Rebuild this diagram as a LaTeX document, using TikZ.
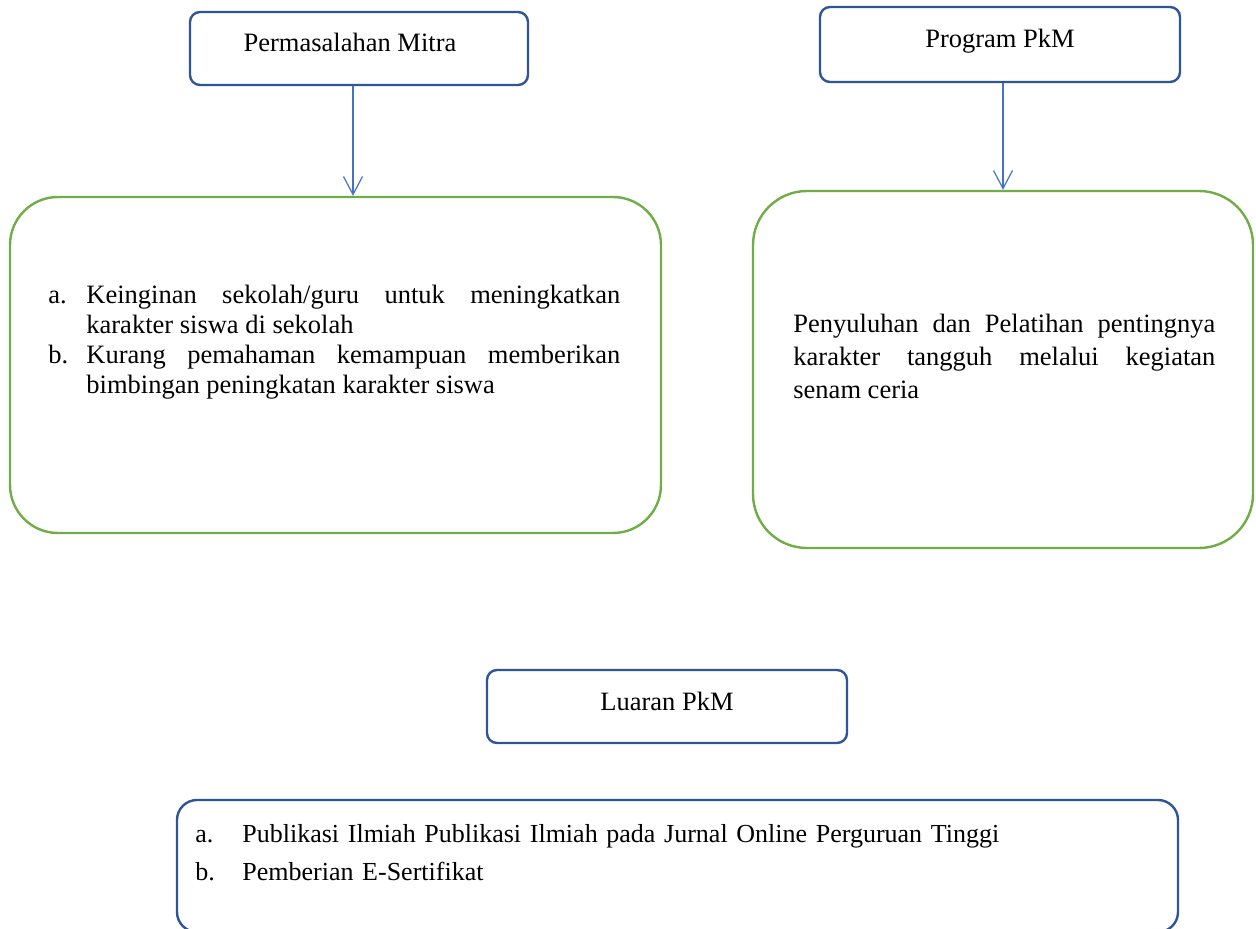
\documentclass[tikz,border=0pt]{standalone}
\usepackage{fontspec}
\setmainfont{Liberation Serif}
\usetikzlibrary{arrows.meta}
\definecolor{boxblue}{HTML}{2F5597}
\definecolor{boxgreen}{HTML}{70AD47}
\definecolor{arrblue}{HTML}{4472C4}
\begin{document}
\begin{tikzpicture}[x=0.5pt,y=-0.5pt,
	every node/.style={font=\fontsize{13.25}{15}\selectfont},
	judul/.style={draw=boxblue,line width=1.2pt,rounded corners=5pt,inner sep=0pt,anchor=base},
	isibox/.style={draw=boxgreen,line width=1.2pt,inner sep=0pt},
	teks/.style={anchor=base west,inner sep=0pt,align=justify},
	panah/.style={draw=arrblue,line width=0.6pt,-{Straight Barb[length=9pt,width=9.5pt]}}]
	\useasboundingbox (0,0) rectangle (1256,929);
	
	\node[judul,minimum width=169pt,text height=20pt,text depth=16.5pt] (mitra) at (359,52) {Permasalahan Mitra\hspace*{9pt}};
	\node[judul,minimum width=180pt,text height=20.5pt,text depth=17pt] (program) at (1000,48) {Program PkM};
	\node[isibox,rounded corners=24pt,minimum width=325.5pt,minimum height=168pt] (masalah) at (335.5,365) {};
	\node[isibox,rounded corners=27pt,minimum width=250pt,minimum height=178.5pt] (solusi) at (1003,369.5) {};
	\node[judul,minimum width=180pt,text height=20pt,text depth=16.5pt] (luaran) at (667,710) {Luaran PkM};
	\node[draw=boxblue,line width=1.2pt,rounded corners=10pt,minimum width=500.5pt,minimum height=66pt] (hasil) at (677.5,866) {};
	
	\node[teks,text width=286pt] (t1) at (48,304) {\hyphenpenalty=10000\parindent=0pt
		\makebox[19pt][l]{a.}\hangindent=19pt\hangafter=1 Keinginan sekolah/guru untuk meningkatkan karakter siswa di sekolah\par
		\makebox[19pt][l]{b.}\hangindent=19pt\hangafter=1 Kurang pemahaman kemampuan memberikan bimbingan peningkatan karakter siswa\par};
	\node[teks,text width=211pt,font=\fontsize{13.25}{16.5}\selectfont] (t2) at (793,333) {\hyphenpenalty=10000\parindent=0pt
		Penyuluhan dan Pelatihan pentingnya karakter tangguh melalui kegiatan senam ceria\par};
	\node[anchor=base west,inner sep=0pt,text width=440pt,align=left,font=\fontsize{13}{19}\selectfont] (t3) at (195,842)
		{\makebox[23.5pt][l]{a.}Publikasi Ilmiah Publikasi Ilmiah pada Jurnal Online Perguruan Tinggi\\
		\makebox[23.5pt][l]{b.}Pemberian E-Sertifikat};
	
	\draw[panah] ([xshift=-3pt]mitra.south) -- ([xshift=-3pt]mitra.south |- masalah.north);
	\draw[panah] (program.south -| solusi.north) -- (solusi.north);
\end{tikzpicture}
\end{document}
